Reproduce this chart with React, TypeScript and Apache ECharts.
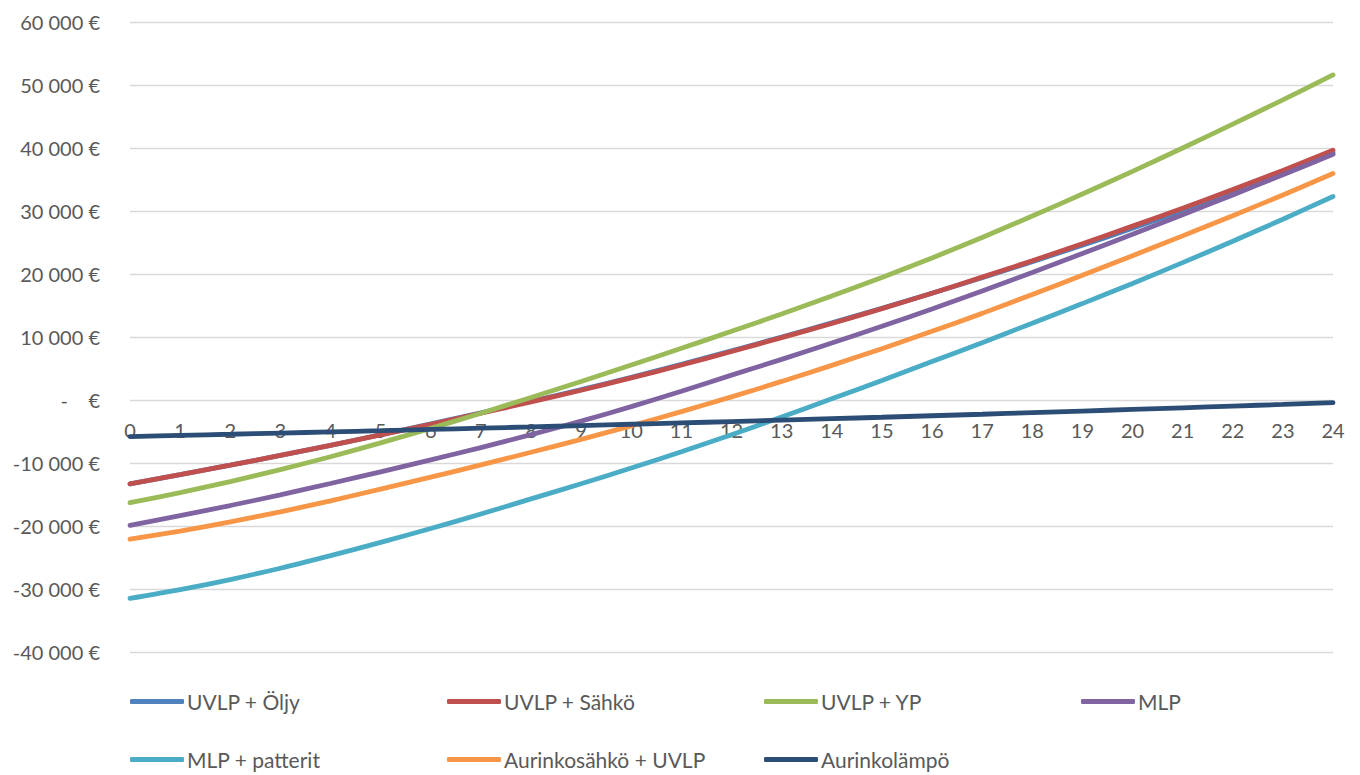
import React, { useEffect, useRef } from "react";
import * as echarts from "echarts";

const years = ["0","1","2","3","4","5","6","7","8","9","10","11","12","13","14","15","16","17","18","19","20","21","22","23","24"];

const uvlpOljy = [-13300,-11850,-10350,-8800,-7200,-5520,-3800,-2020,-200,1650,3600,5650,7800,10000,12250,14550,16950,19400,21950,24550,27250,30050,32950,35950,39250];
const uvlpSahko = [-13300,-11850,-10350,-8800,-7200,-5550,-3850,-2100,-300,1550,3500,5550,7700,9900,12150,14500,16950,19500,22100,24800,27600,30450,33400,36450,39650];
const uvlpYP = [-16300,-14700,-12950,-11050,-9000,-6800,-4500,-2100,400,2950,5550,8200,10900,13650,16500,19450,22550,25800,29200,32700,36300,40000,43800,47650,51600];
const mlp = [-19900,-18350,-16750,-15050,-13250,-11400,-9500,-7550,-5500,-3350,-1050,1400,3950,6450,9050,11700,14450,17300,20250,23250,26300,29400,32550,35750,39000];
const mlpPatterit = [-31500,-30100,-28500,-26700,-24700,-22600,-20400,-18100,-15700,-13300,-10800,-8200,-5500,-2700,200,3100,6100,9100,12200,15300,18500,21800,25200,28700,32300];
const aurinkosahko = [-22100,-20800,-19350,-17750,-16000,-14150,-12250,-10300,-8300,-6250,-4100,-1850,500,2950,5500,8150,10900,13750,16750,19800,22900,26050,29250,32550,35950];
const aurinkolampo = [-5800,-5620,-5440,-5250,-5060,-4870,-4670,-4470,-4270,-4060,-3850,-3640,-3420,-3200,-2970,-2740,-2500,-2260,-2010,-1760,-1500,-1240,-970,-700,-420];

const seriesNames = ["UVLP + Öljy","UVLP + Sähkö","UVLP + YP","MLP","MLP + patterit","Aurinkosähkö + UVLP","Aurinkolämpö"];
const seriesData = [uvlpOljy, uvlpSahko, uvlpYP, mlp, mlpPatterit, aurinkosahko, aurinkolampo];
const colors = ["#4F81BD","#C0504D","#9BBB59","#8064A2","#4BACC6","#F79646","#2C4D75"];

const FONT = "Lato, 'Noto Sans', sans-serif";
const TEXT = "#595959";

function fmt(v: number): string {
  if (v === 0) return "-\u00a0\u00a0\u00a0\u00a0€";
  const neg = v < 0;
  const s = String(Math.abs(v)).replace(/\B(?=(\d{3})+(?!\d))/g, " ");
  return (neg ? "-" : "") + s + " €";
}

export default function App() {
  const ref = useRef<HTMLDivElement>(null);
  useEffect(() => {
    if (!ref.current) return;
    const chart = echarts.init(ref.current, undefined, { renderer: "svg" });
    const legendPos = [
      [130, 691], [447, 691], [764, 691], [1081, 691],
      [130, 749], [447, 749], [764, 749],
    ];
    chart.setOption({
      animation: false,
      color: colors,
      textStyle: { fontFamily: FONT },
      grid: [
        { left: 130, right: 27, top: 22, bottom: 123, containLabel: false },
        { left: 130, right: 27, top: 399, height: 1, containLabel: false },
      ],
      legend: seriesNames.map((n, i) => ({
        data: [n],
        left: legendPos[i][0],
        top: legendPos[i][1],
        padding: 0,
        icon: "roundRect",
        itemWidth: 54,
        itemHeight: 5,
        itemGap: 0,
        selectedMode: false,
        textStyle: { fontFamily: FONT, fontSize: 21, color: TEXT, padding: [0, 0, 0, -2] },
      })),
      xAxis: [
        {
          type: "category",
          gridIndex: 0,
          data: years,
          boundaryGap: false,
          axisLine: { show: false },
          axisTick: { show: false },
          axisLabel: { show: false },
          splitLine: { show: false },
        },
        {
          type: "category",
          gridIndex: 1,
          data: years,
          boundaryGap: false,
          position: "bottom",
          axisLine: { show: false },
          axisTick: { show: false },
          axisLabel: { interval: 0, margin: 20, fontSize: 20, color: TEXT, fontFamily: FONT },
          splitLine: { show: false },
        },
      ],
      yAxis: [
        {
          type: "value",
          gridIndex: 0,
          min: -40000,
          max: 60000,
          interval: 10000,
          axisLine: { show: false },
          axisTick: { show: false },
          axisLabel: { margin: 30, fontSize: 20, color: TEXT, fontFamily: FONT, formatter: (v: number) => fmt(v) },
          splitLine: { lineStyle: { color: "#D9D9D9", width: 1.3 } },
        },
        {
          type: "value",
          gridIndex: 1,
          show: false,
          min: 0,
          max: 1,
          splitLine: { show: false },
        },
      ],
      series: seriesNames.map((n, i) => ({
        name: n,
        type: "line",
        xAxisIndex: 0,
        yAxisIndex: 0,
        data: seriesData[i],
        smooth: 0.3,
        showSymbol: false,
        symbol: "none",
        lineStyle: { width: 4.8, color: colors[i], cap: "round" },
        itemStyle: { color: colors[i] },
        z: 2 + i,
      })),
    });
    return () => chart.dispose();
  }, []);
  return (
    <div
      ref={ref}
      style={{ position: "fixed", left: 0, top: 0, width: 1360, height: 775, background: "#fff" }}
    />
  );
}
